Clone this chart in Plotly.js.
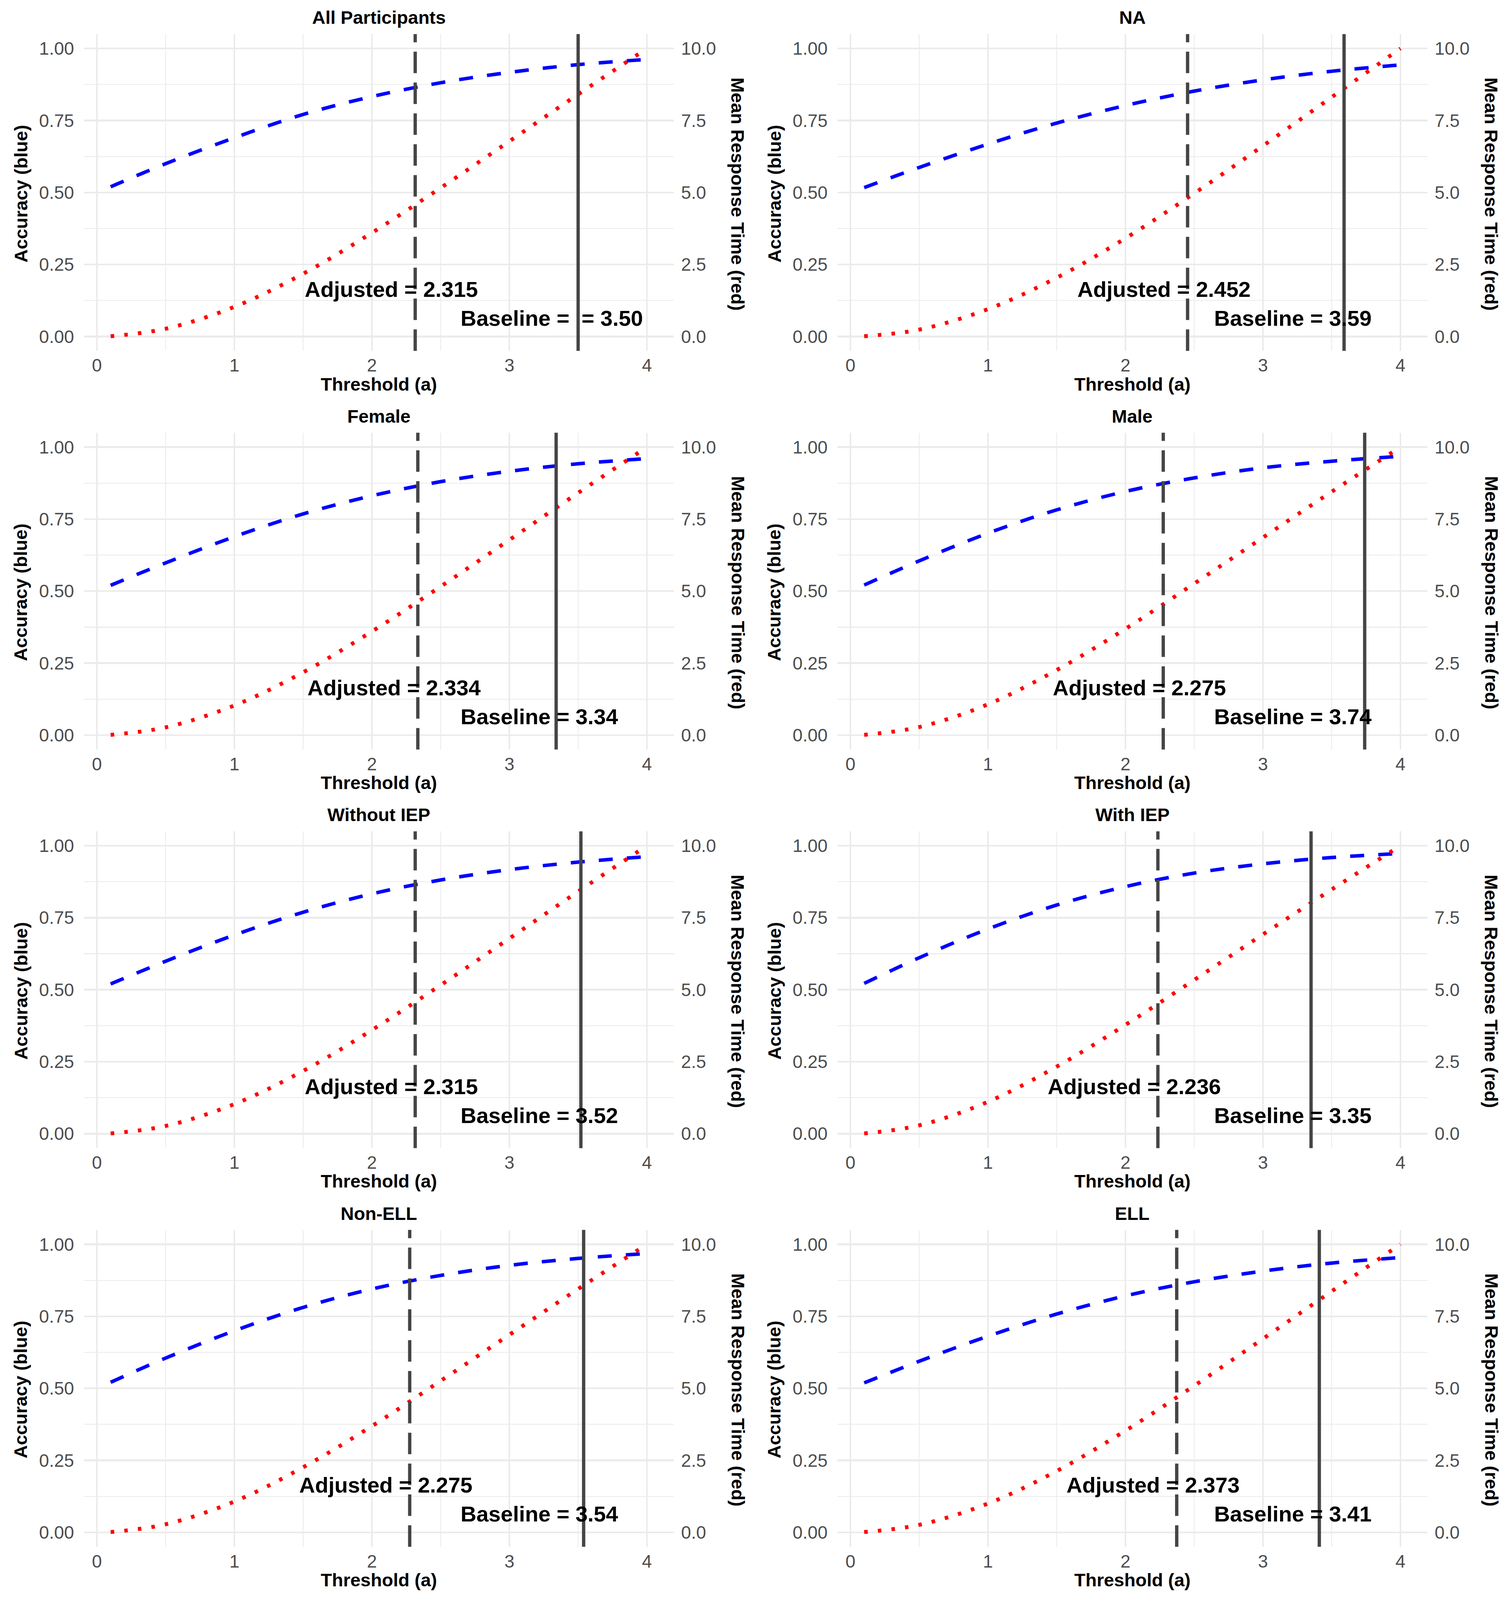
<!DOCTYPE html>
<html>
<head>
<meta charset="utf-8">
<script src="https://cdn.plot.ly/plotly-3.0.1.min.js"></script>
<style>html,body{margin:0;background:#fff;overflow:hidden}</style>
</head>
<body>
<div id="chart"></div>
<script>
// threshold grid (a) shared by every panel
const thresholds = [0.1, 0.5, 1, 1.5, 2, 2.5, 3, 3.5, 4];

const groups = ["All Participants", "NA", "Female", "Male",
                "Without IEP", "With IEP", "Non-ELL", "ELL"];

// accuracy (left axis, blue dashed)
const accAll    = [0.520, 0.600, 0.690, 0.771, 0.833, 0.881, 0.917, 0.944, 0.962];
const accNA     = [0.517, 0.587, 0.668, 0.741, 0.802, 0.852, 0.891, 0.921, 0.943];
const accFemale = [0.520, 0.598, 0.689, 0.768, 0.831, 0.880, 0.916, 0.942, 0.960];
const accMale   = [0.521, 0.605, 0.701, 0.782, 0.846, 0.893, 0.928, 0.951, 0.968];
const accNoIEP  = [0.520, 0.599, 0.690, 0.769, 0.833, 0.881, 0.917, 0.943, 0.962];
const accIEP    = [0.522, 0.611, 0.711, 0.794, 0.858, 0.905, 0.937, 0.959, 0.973];
const accNonELL = [0.521, 0.605, 0.700, 0.781, 0.845, 0.892, 0.927, 0.951, 0.968];
const accELL    = [0.519, 0.594, 0.681, 0.758, 0.821, 0.870, 0.907, 0.935, 0.954];

// mean response time (right axis, red dotted)
const rtAll    = [0.01, 0.27, 1.03, 2.18, 3.60, 5.16, 6.78, 8.41, 10.0];
const rtNA     = [0.01, 0.24, 0.95, 2.04, 3.41, 4.97, 6.62, 8.31, 10.0];
const rtFemale = [0.01, 0.27, 1.03, 2.18, 3.60, 5.16, 6.78, 8.41, 10.0];
const rtMale   = [0.01, 0.28, 1.07, 2.26, 3.69, 5.26, 6.86, 8.45, 10.0];
const rtNoIEP  = [0.01, 0.27, 1.03, 2.18, 3.60, 5.16, 6.78, 8.41, 10.0];
const rtIEP    = [0.01, 0.29, 1.11, 2.33, 3.78, 5.34, 6.92, 8.48, 10.0];
const rtNonELL = [0.01, 0.28, 1.07, 2.26, 3.69, 5.26, 6.86, 8.45, 10.0];
const rtELL    = [0.01, 0.26, 1.00, 2.13, 3.53, 5.09, 6.72, 8.37, 10.0];

const adjusted = [2.315, 2.452, 2.334, 2.275, 2.315, 2.236, 2.275, 2.373];
const baseline = [3.50, 3.59, 3.34, 3.74, 3.52, 3.35, 3.54, 3.41];
const baselineLabels = ["Baseline =\u00a0 = 3.50", "Baseline = 3.59", "Baseline = 3.34",
                        "Baseline = 3.74", "Baseline = 3.52", "Baseline = 3.35",
                        "Baseline = 3.54", "Baseline = 3.41"];

const accTicks = [0, 0.25, 0.5, 0.75, 1];
const accTickText = ["0.00", "0.25", "0.50", "0.75", "1.00"];
const rtTicks = [0, 2.5, 5, 7.5, 10];
const rtTickText = ["0.0", "2.5", "5.0", "7.5", "10.0"];
const xTicks = [0, 1, 2, 3, 4];

const accSeries = [accAll, accNA, accFemale, accMale, accNoIEP, accIEP, accNonELL, accELL];
const rtSeries = [rtAll, rtNA, rtFemale, rtMale, rtNoIEP, rtIEP, rtNonELL, rtELL];

// layout is measured on a 3868 x 4850 page; the window may be shorter,
// so vertical positions are kept as fractions of that page
const W = 3868, HD = 4850;
const H = Math.min(HD, window.innerHeight || HD);
const fs = Math.sqrt(H / HD);
const colLeft = [214.6, 2143.6], plotW = 1510;
const rowTop = 103.3, plotH = 960.4, rowStep = 1208.3;

const FONT = "Liberation Sans, Arial, sans-serif";
const GRID = "#EBEBEB";
const TICKCOL = "#4D4D4D";
const VLINE = "#454545";

const axId = (p, n) => (n === 1 ? p : p + n);
const axKey = (p, n) => (n === 1 ? p + "axis" : p + "axis" + n);

let data = [];
let shapes = [];
let annotations = [];
let layout = {
  width: W,
  height: H,
  margin: { l: 0, r: 0, t: 0, b: 0 },
  paper_bgcolor: "white",
  plot_bgcolor: "white",
  showlegend: false,
  font: { family: FONT, color: "black" },
};

const tickFont = { size: Math.round(50 * fs), color: TICKCOL, family: FONT };

groups.forEach((g, i) => {
  const r = Math.floor(i / 2), c = i % 2;
  const xn = i + 1, yl = 2 * i + 1, yr = 2 * i + 2;
  const left = colLeft[c], right = left + plotW;
  const top = rowTop + r * rowStep, bottom = top + plotH;
  const xd = [left / W, right / W];
  const yd = [1 - bottom / HD, 1 - top / HD];

  layout[axKey("x", xn)] = {
    domain: xd,
    anchor: axId("y", yl),
    range: [-0.095, 4.195],
    tickvals: xTicks,
    ticks: "",
    tickfont: tickFont,
    showgrid: true,
    gridcolor: GRID,
    gridwidth: 4.4,
    minor: { tickvals: [0.5, 1.5, 2.5, 3.5], showgrid: true, gridcolor: GRID, gridwidth: 2.2 },
    zeroline: false,
    showline: false,
    ticklabelstandoff: 6,
  };
  layout[axKey("y", yl)] = {
    domain: yd,
    anchor: axId("x", xn),
    range: [-0.05, 1.05],
    tickvals: accTicks,
    ticktext: accTickText,
    ticks: "",
    tickfont: tickFont,
    showgrid: true,
    gridcolor: GRID,
    gridwidth: 4.4,
    minor: { tickvals: [0.125, 0.375, 0.625, 0.875], showgrid: true, gridcolor: GRID, gridwidth: 2.2 },
    zeroline: false,
    showline: false,
    ticklabelstandoff: 24,
  };
  layout[axKey("y", yr)] = {
    domain: yd,
    anchor: axId("x", xn),
    overlaying: axId("y", yl),
    side: "right",
    range: [-0.5, 10.5],
    tickvals: rtTicks,
    ticktext: rtTickText,
    ticks: "",
    tickfont: tickFont,
    showgrid: false,
    zeroline: false,
    showline: false,
    ticklabelstandoff: 18,
  };

  data.push({
    x: thresholds,
    y: accSeries[i],
    xaxis: axId("x", xn),
    yaxis: axId("y", yl),
    type: "scatter",
    mode: "lines",
    line: { color: "#0000FF", width: 9, dash: "36px,36px", shape: "spline" },
    hoverinfo: "skip",
  });
  data.push({
    x: thresholds,
    y: rtSeries[i],
    xaxis: axId("x", xn),
    yaxis: axId("y", yr),
    type: "scatter",
    mode: "lines",
    line: { color: "#FF0000", width: 10, dash: "9px,26px", shape: "spline" },
    hoverinfo: "skip",
  });

  // adjusted (long dash) and baseline (solid) thresholds
  shapes.push({
    type: "line", xref: axId("x", xn), yref: axId("y", yl) + " domain",
    x0: adjusted[i], x1: adjusted[i], y0: 0, y1: 1,
    line: { color: VLINE, width: 8.5, dash: "55px,24px" },
  });
  shapes.push({
    type: "line", xref: axId("x", xn), yref: axId("y", yl) + " domain",
    x0: baseline[i], x1: baseline[i], y0: 0, y1: 1,
    line: { color: VLINE, width: 8.5 },
  });

  const noteFont = { size: Math.round(61 * fs), family: FONT, color: "black" };
  annotations.push({
    xref: axId("x", xn), yref: axId("y", yl),
    x: adjusted[i] - 0.172, y: 0.164,
    xanchor: "center", yanchor: "middle",
    text: "<b>Adjusted = " + adjusted[i].toFixed(3) + "</b>",
    showarrow: false,
    font: noteFont,
  });
  annotations.push({
    xref: axId("x", xn), yref: axId("y", yl),
    x: 2.64, y: 0.064,
    xanchor: "left", yanchor: "middle",
    text: "<b>" + baselineLabels[i] + "</b>",
    showarrow: false,
    font: noteFont,
  });

  // panel title and axis titles
  const titleFont = { size: Math.round(51 * fs), family: FONT, color: "black" };
  const cx = (left + right) / 2;
  annotations.push({
    xref: "paper", yref: "paper",
    x: cx / W, y: 1 - (53 + r * rowStep) / HD,
    xanchor: "center", yanchor: "middle",
    text: "<b>" + g + "</b>", showarrow: false,
    font: titleFont,
  });
  annotations.push({
    xref: "paper", yref: "paper",
    x: cx / W, y: 1 - (1164 + r * rowStep) / HD,
    xanchor: "center", yanchor: "middle",
    text: "<b>Threshold (a)</b>", showarrow: false,
    font: titleFont,
  });
  const cy = 1 - (top + plotH / 2 + 4) / HD;
  annotations.push({
    xref: "paper", yref: "paper",
    x: (53 + c * 1929) / W, y: cy,
    xanchor: "center", yanchor: "middle", textangle: -90,
    text: "<b>Accuracy (blue)</b>", showarrow: false,
    font: titleFont,
  });
  annotations.push({
    xref: "paper", yref: "paper",
    x: (1889 + c * 1929) / W, y: cy,
    xanchor: "center", yanchor: "middle", textangle: 90,
    text: "<b>Mean Response Time (red)</b>", showarrow: false,
    font: titleFont,
  });
});

layout.shapes = shapes;
layout.annotations = annotations;

Plotly.newPlot("chart", data, layout, { staticPlot: true });
</script>
</body>
</html>
